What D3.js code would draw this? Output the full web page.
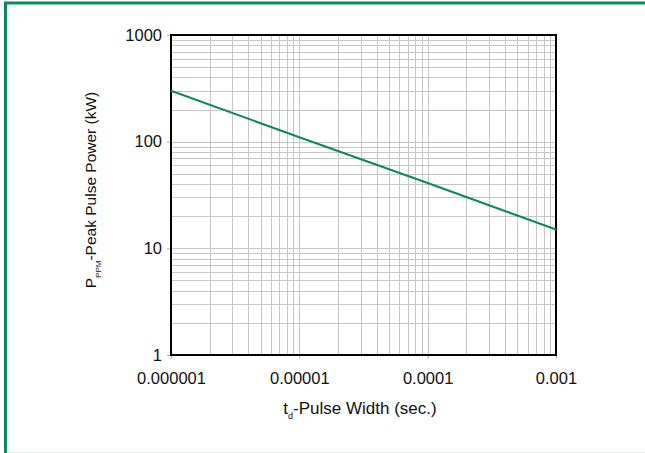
<!DOCTYPE html>
<html>
<head>
<meta charset="utf-8">
<script src="https://cdn.jsdelivr.net/npm/d3@7"></script>
<style>
  body { margin: 0; background: #fff; }
  text { font-family: "Liberation Sans", Arial, sans-serif; fill: #111; }
</style>
</head>
<body>
<script>
// Data
var pulseWidth = [0.000001, 0.00001, 0.0001, 0.001];
var peakPower = [300, 110, 41, 15];
var xTicks = [0.000001, 0.00001, 0.0001, 0.001];
var xTickLabels = ["0.000001", "0.00001", "0.0001", "0.001"];
var yTicks = [1, 10, 100, 1000];
var yTickLabels = ["1", "10", "100", "1000"];

var width = 645;
var height = 453;
var margin = { top: 35, right: 89, bottom: 98, left: 171 };

var svg = d3.select("body")
  .append("svg")
  .attr("width", width)
  .attr("height", height);

// outer green frame
svg.append("rect")
  .attr("x", 5.5)
  .attr("y", 3)
  .attr("width", width + 10)
  .attr("height", height + 10)
  .attr("fill", "none")
  .attr("stroke", "#0a8a5a")
  .attr("stroke-width", 3);
svg.append("line")
  .attr("x1", 7).attr("x2", width)
  .attr("y1", 452.5).attr("y2", 452.5)
  .attr("stroke", "#d6f0e6");

var x = d3.scaleLog()
  .domain([0.000001, 0.001])
  .range([margin.left, width - margin.right]);

var y = d3.scaleLog()
  .domain([1, 1000])
  .range([height - margin.bottom, margin.top]);

// minor + major grid lines
var xGrid = [];
var yGrid = [];
for (var d = 0; d < 3; d++) {
  for (var k = 1; k <= 9; k++) {
    xGrid.push(xTicks[d] * k);
    yGrid.push(yTicks[d] * k);
  }
}

var grid = svg.append("g").attr("stroke", "#c6c6c6").attr("stroke-width", 1);
grid.selectAll(".gx")
  .data(xGrid)
  .enter()
  .append("line")
  .attr("x1", function (d) { return Math.round(x(d)) + 0.5; })
  .attr("x2", function (d) { return Math.round(x(d)) + 0.5; })
  .attr("y1", y(1000))
  .attr("y2", y(1));
grid.selectAll(".gy")
  .data(yGrid)
  .enter()
  .append("line")
  .attr("y1", function (d) { return Math.round(y(d)) + 0.5; })
  .attr("y2", function (d) { return Math.round(y(d)) + 0.5; })
  .attr("x1", x(0.000001))
  .attr("x2", x(0.001));

// axes
var xAxis = d3.axisBottom(x)
  .tickValues(xTicks)
  .tickSize(4)
  .tickPadding(13)
  .tickFormat(function (d, i) { return xTickLabels[i]; });

var yAxis = d3.axisLeft(y)
  .tickValues(yTicks)
  .tickSize(4)
  .tickPadding(5)
  .tickFormat(function (d, i) { return yTickLabels[i]; });

var gx = svg.append("g")
  .attr("transform", "translate(0," + (height - margin.bottom) + ")")
  .call(xAxis);
var gy = svg.append("g")
  .attr("transform", "translate(" + margin.left + ",0)")
  .call(yAxis);

[gx, gy].forEach(function (g) {
  g.attr("font-size", 16.5).attr("font-family", "Liberation Sans, Arial, sans-serif");
  g.select(".domain").remove();
  g.selectAll(".tick line").attr("stroke", "#b0b0b0");
  g.selectAll(".tick text").attr("fill", "#111");
});

// plot frame
svg.append("rect")
  .attr("x", x(0.000001))
  .attr("y", y(1000))
  .attr("width", x(0.001) - x(0.000001))
  .attr("height", y(1) - y(1000))
  .attr("fill", "none")
  .attr("stroke", "#000")
  .attr("stroke-width", 2);

// curve
var line = d3.line()
  .x(function (d, i) { return x(pulseWidth[i]); })
  .y(function (d) { return y(d); });

svg.append("path")
  .datum(peakPower)
  .attr("d", line)
  .attr("fill", "none")
  .attr("stroke", "#0a8a5a")
  .attr("stroke-width", 2);

// axis titles
var xt = svg.append("text")
  .attr("x", 360)
  .attr("y", 414)
  .attr("text-anchor", "middle")
  .attr("font-size", 17);
xt.append("tspan").text("t");
xt.append("tspan").attr("font-size", 9).attr("dy", 5).text("d");
xt.append("tspan").attr("dy", -5).text("-Pulse Width (sec.)");

var yt = svg.append("text")
  .attr("transform", "translate(96,190) rotate(-90)")
  .attr("text-anchor", "middle")
  .attr("font-size", 15.5);
yt.append("tspan").text("P");
yt.append("tspan").attr("font-size", 8).attr("dy", 5).text("PPM");
yt.append("tspan").attr("dy", -5).text("-Peak Pulse Power (kW)");
</script>
</body>
</html>
